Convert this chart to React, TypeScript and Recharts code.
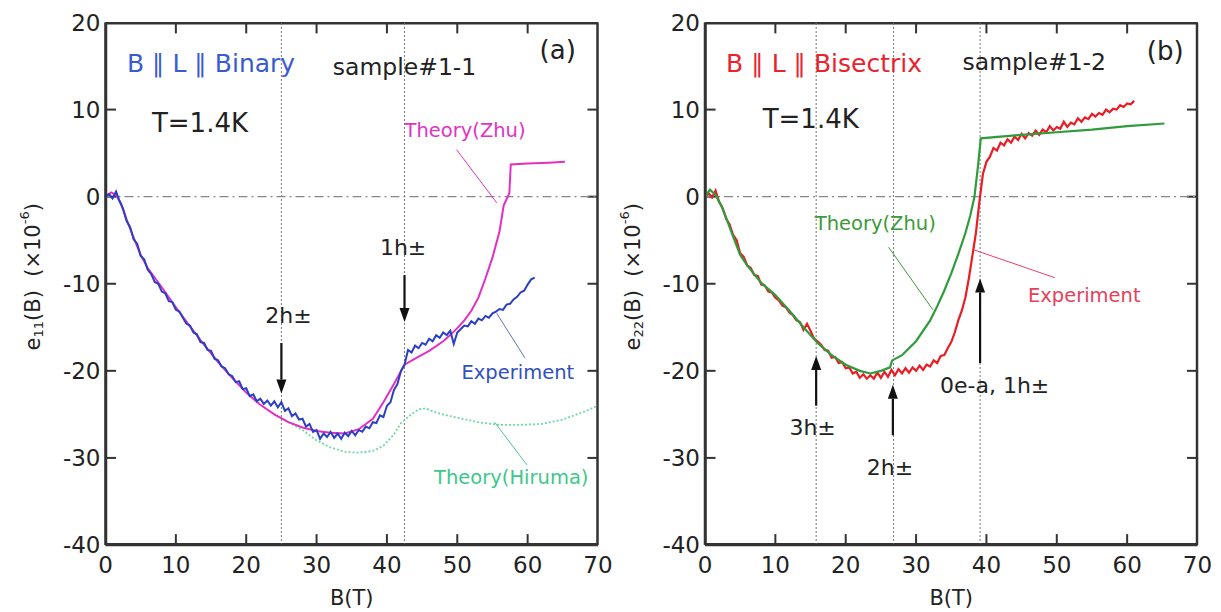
import { LineChart, Line, XAxis, YAxis, ReferenceLine, ReferenceDot, Label } from 'recharts';

const FONT = '"DejaVu Sans", sans-serif';

// (a) B || L || Binary, sample#1-1
const zhuA_B = [0, 0.8, 1.5, 2.2, 3, 4, 5, 6, 8, 10, 12, 14, 16, 18, 20, 22, 24, 26, 28, 30, 32, 34, 36, 38, 39.5, 41, 42.5, 44, 46, 48, 49, 50, 51, 52, 53, 54, 55, 56, 56.6, 57.4, 57.6, 60, 63, 65.3];
const zhuA_E = [0, 0.5, 0.2, -0.8, -2.6, -4.7, -6.7, -8.2, -10.4, -12.7, -14.9, -17.0, -19.0, -20.8, -22.5, -23.9, -25.0, -25.9, -26.5, -26.9, -27.1, -27.2, -26.7, -25.5, -23.6, -21.5, -19.3, -18.6, -17.7, -16.6, -15.9, -15.1, -14.2, -13.1, -11.6, -9.4, -7.0, -4.0, -1.0, 0.4, 3.7, 3.8, 3.9, 4.0];

const hirumaA_B = [24, 26, 28, 30, 32, 34, 36, 38, 39.5, 41, 42, 43, 44.5, 45.5, 47, 50, 53, 56, 59, 62, 65, 68, 70];
const hirumaA_E = [-25.0, -25.9, -26.8, -28.0, -28.8, -29.3, -29.4, -29.2, -28.6, -27.3, -26.0, -25.3, -24.4, -24.3, -24.8, -25.4, -25.9, -26.2, -26.2, -26.1, -25.6, -24.7, -24.0];

// experiment field points (T), shared by both panels
const expB = [
  0, 0.5, 1, 1.5, 2, 2.5, 3, 3.5, 4, 4.5, 5, 5.5, 6, 6.5, 7, 7.5, 8, 8.5, 9, 9.5,
  10, 10.5, 11, 11.5, 12, 12.5, 13, 13.5, 14, 14.5, 15, 15.5, 16, 16.5, 17, 17.5, 18, 18.5, 19, 19.5,
  20, 20.5, 21, 21.5, 22, 22.5, 23, 23.5, 24, 24.5, 25, 25.5, 26, 26.5, 27, 27.5, 28, 28.5, 29, 29.5,
  30, 30.5, 31, 31.5, 32, 32.5, 33, 33.5, 34, 34.5, 35, 35.5, 36, 36.5, 37, 37.5, 38, 38.5, 39, 39.5,
  40, 40.5, 41, 41.5, 42, 42.5, 43, 43.5, 44, 44.5, 45, 45.5, 46, 46.5, 47, 47.5, 48, 48.5, 49, 49.5,
  50, 50.5, 51, 51.5, 52, 52.5, 53, 53.5, 54, 54.5, 55, 55.5, 56, 56.5, 57, 57.5, 58, 58.5, 59, 59.5,
  60, 60.5, 61,
];
const expA_E = [
  0, 0.3, -0.2, 0.6, -0.5, -1.4, -2.8, -3.5, -4.9, -5.4,
  -6.8, -7.2, -8.4, -8.9, -9.8, -10.0, -10.9, -11.1, -12.0, -12.1,
  -13.0, -13.2, -13.9, -14.6, -14.8, -15.6, -15.8, -16.7, -16.8, -17.6,
  -17.7, -18.6, -18.8, -19.5, -19.7, -20.4, -20.6, -21.3, -21.2, -22.1,
  -22.0, -22.9, -22.7, -23.5, -23.2, -23.8, -23.4, -24.0, -23.5, -24.2,
  -23.6, -24.6, -24.3, -25.2, -24.9, -25.6, -25.5, -26.4, -26.1, -27.0,
  -26.8, -27.8, -27.2, -27.6, -27.0, -27.7, -27.2, -27.8, -27.1, -27.5,
  -26.9, -27.4, -26.8, -27.0, -26.4, -26.6, -25.9, -26.0, -25.1, -25.3,
  -24.0, -23.6, -22.2, -21.5, -20.0, -19.3, -17.6, -17.9, -17.1, -17.4,
  -16.8, -17.0, -16.3, -16.6, -15.9, -16.2, -15.6, -15.9, -15.4, -16.9,
  -15.6, -15.2, -14.8, -14.9, -14.3, -14.6, -14.0, -14.2, -13.7, -13.9,
  -13.4, -13.2, -12.9, -13.0, -12.4, -12.3, -11.8, -11.5, -11.0, -10.8,
  -10.1, -9.5, -9.3,
];

// (b) B || L || Bisectrix, sample#1-2
const zhuB_B = [0, 0.7, 1.5, 2.3, 3, 4, 5, 6, 8, 10, 12, 14, 16, 18, 20, 22, 23.5, 25, 26.3, 26.6, 28, 30, 32, 33, 34, 35, 36, 37, 37.7, 38.3, 38.8, 39.2, 45, 50, 55, 60, 65.3];
const zhuB_E = [0, 0.8, 0.2, -1.0, -2.4, -4.6, -6.7, -7.9, -9.9, -11.3, -13.1, -15.0, -16.8, -18.2, -19.3, -20.0, -20.3, -20.0, -19.6, -18.8, -18.2, -16.6, -14.2, -12.6, -10.8, -8.8, -6.6, -4.2, -2.2, 0, 3.5, 6.7, 7.1, 7.4, 7.7, 8.1, 8.4];

const expB_E = [
  0, 0.4, -0.1, 0.7, -0.6, -1.3, -2.5, -3.2, -4.4, -5.0,
  -6.5, -6.9, -7.9, -8.2, -9.0, -9.1, -10.1, -10.2, -10.9, -11.0,
  -11.6, -11.9, -12.5, -12.7, -13.3, -13.6, -14.2, -14.4, -15.3, -14.6,
  -15.4, -16.3, -16.6, -17.0, -17.6, -17.7, -18.5, -18.4, -19.1, -19.0,
  -19.7, -19.6, -20.3, -20.1, -20.8, -20.4, -20.9, -20.5, -20.9, -20.2,
  -20.8, -20.1, -20.7, -19.9, -20.5, -19.8, -20.3, -19.7, -20.2, -19.6,
  -20.0, -19.4, -19.9, -19.3, -19.5, -18.8, -19.1, -18.3, -18.2, -17.4,
  -16.7, -15.6, -14.2, -13.1, -11.6, -9.4, -6.8, -4.2, -0.6, 2.6,
  4.0, 4.6, 5.6, 5.3, 6.2, 5.9, 6.6, 6.2, 6.9, 6.5,
  7.2, 6.7, 7.3, 7.0, 7.6, 7.1, 7.7, 7.4, 8.1, 7.6,
  8.0, 7.8, 8.6, 8.0, 8.5, 8.3, 9.0, 8.6, 9.1, 8.9,
  9.5, 9.2, 9.6, 9.4, 10.0, 9.7, 10.1, 10.0, 10.5, 10.3,
  10.7, 10.6, 11.0,
];

const xTicks = [0, 10, 20, 30, 40, 50, 60, 70];
const yTicks = [-40, -30, -20, -10, 0, 10, 20];
const innerX = [10, 20, 30, 40, 50, 60];
const innerY = [-30, -20, -10, 0, 10];

const pts = (b: number[], e: number[]) => b.map((v, i) => ({ b: v, e: e[i] }));

const zhuA = pts(zhuA_B, zhuA_E);
const hirumaA = pts(hirumaA_B, hirumaA_E);
const expA = pts(expB, expA_E);
const zhuB = pts(zhuB_B, zhuB_E);
const expBpts = pts(expB, expB_E);

const note = (text: string, color = '#222', size = 22, anchor: 'start' | 'middle' = 'start') =>
  (p: any) => (
    <text x={p.cx} y={p.cy} fill={color} fontSize={size} fontFamily={FONT} textAnchor={anchor}>
      {text}
    </text>
  );

const arrowShape = (p: any) => {
  const { x1, y1, x2, y2 } = p;
  const a = Math.atan2(y2 - y1, x2 - x1);
  const len = 14, w = 5;
  const bx = x2 - len * Math.cos(a), by = y2 - len * Math.sin(a);
  const px = -Math.sin(a) * w, py = Math.cos(a) * w;
  return (
    <g>
      <line x1={x1} y1={y1} x2={bx} y2={by} stroke="#111" strokeWidth={2.2} />
      <polygon points={`${x2},${y2} ${bx + px},${by + py} ${bx - px},${by - py}`} fill="#111" />
    </g>
  );
};

const xLabel = (p: any) => {
  const vb = p.viewBox;
  if (!vb) return null;
  return (
    <text x={vb.x + vb.width / 2} y={vb.y + 60} textAnchor="middle" fontSize={21} fontFamily={FONT} fill="#222">
      B(T)
    </text>
  );
};

const yLabel = (cx: number, sub: string) => (p: any) => {
  const vb = p.viewBox;
  if (!vb) return null;
  const x = vb.x + cx;
  const y = vb.y + vb.height / 2 - 7;
  return (
    <text transform={`rotate(-90 ${x} ${y})`} x={x} y={y} textAnchor="middle" dominantBaseline="central"
      fontSize={21} fontFamily={FONT} fill="#222">
      e<tspan fontSize={13} dy={5}>{sub}</tspan>
      <tspan dy={-5}>{'(B)\u00a0\u00a0(×10'}</tspan>
      <tspan fontSize={13} dy={-9}>-6</tspan>
      <tspan dy={9}>)</tspan>
    </text>
  );
};
const yLabelA = yLabel(33, '11');
const yLabelB = yLabel(23, '22');

const tickFont = { fill: '#222', fontSize: 23, fontFamily: FONT };
const frameLine = { stroke: '#333', strokeWidth: 2.5 };

// box and inward ticks, kept a hair inside the domain edges
const frame = () => [
  <ReferenceLine key="fb" y={-39.9} stroke="#333" strokeWidth={2.5} />,
  <ReferenceLine key="ft" y={19.9} stroke="#333" strokeWidth={2.5} />,
  <ReferenceLine key="fl" x={0.07} stroke="#333" strokeWidth={2.5} />,
  <ReferenceLine key="fr" x={69.93} stroke="#333" strokeWidth={2.5} />,
  ...innerX.map((v) => (
    <ReferenceLine key={`bx${v}`} segment={[{ x: v, y: -39.9 }, { x: v, y: -38.75 }]} stroke="#333" strokeWidth={2} />
  )),
  ...innerX.map((v) => (
    <ReferenceLine key={`tx${v}`} segment={[{ x: v, y: 19.9 }, { x: v, y: 18.75 }]} stroke="#333" strokeWidth={2} />
  )),
  ...innerY.map((v) => (
    <ReferenceLine key={`ly${v}`} segment={[{ x: 0.07, y: v }, { x: 1.5, y: v }]} stroke="#333" strokeWidth={2} />
  )),
  ...innerY.map((v) => (
    <ReferenceLine key={`ry${v}`} segment={[{ x: 69.93, y: v }, { x: 68.5, y: v }]} stroke="#333" strokeWidth={2} />
  )),
];

export default function App() {
  return (
    <div style={{ position: 'absolute', left: 0, top: 0, width: 1221, height: 612, background: '#fff' }}>
      <div style={{ position: 'absolute', left: 0, top: 0 }}>
        <LineChart width={612} height={612} data={expA} margin={{ top: 22.5, right: 14, bottom: 0, left: 0 }}>
          <XAxis type="number" dataKey="b" domain={[0, 70]} ticks={xTicks} height={67}
            tickLine={false} tickSize={0} tickMargin={12} axisLine={frameLine} tick={tickFont}>
            <Label content={xLabel} />
          </XAxis>
          <YAxis type="number" domain={[-40, 20]} ticks={yTicks} width={105.5}
            tickLine={false} tickSize={0} tickMargin={5} axisLine={frameLine} tick={tickFont}>
            <Label content={yLabelA} />
          </YAxis>
          {frame()}
          <ReferenceLine x={25} stroke="#777" strokeWidth={1} strokeDasharray="2 2" />
          <ReferenceLine x={42.5} stroke="#777" strokeWidth={1} strokeDasharray="2 2" />
          <ReferenceLine y={0} stroke="#888" strokeWidth={1.2} strokeDasharray="9 4 2 4" />

          <Line data={hirumaA} dataKey="e" type="linear" dot={false} stroke="#6fd9a6" strokeWidth={1.8} strokeDasharray="2 2" isAnimationActive={false} />
          <Line data={zhuA} dataKey="e" type="linear" dot={false} stroke="#e52fc2" strokeWidth={2} isAnimationActive={false} />
          <Line dataKey="e" type="linear" dot={false} stroke="#2a3fc4" strokeWidth={2} isAnimationActive={false} />

          <ReferenceDot x={3.05} y={14.3} r={0} shape={note('B ∥ L ∥ Binary', '#3a5bd0', 25)} />
          <ReferenceDot x={32.3} y={14.0} r={0} shape={note('sample#1-1', '#222', 23.5)} />
          <ReferenceDot x={61.7} y={15.8} r={0} shape={note('(a)', '#222', 26)} />
          <ReferenceDot x={6.6} y={7.4} r={0} shape={note('T=1.4K', '#222', 26)} />
          <ReferenceDot x={42.5} y={6.8} r={0} shape={note('Theory(Zhu)', '#e033c4', 19.5)} />
          <ReferenceDot x={26} y={-14.5} r={0} shape={note('2h±', '#222', 22, 'middle')} />
          <ReferenceDot x={42.3} y={-6.7} r={0} shape={note('1h±', '#222', 22, 'middle')} />
          <ReferenceDot x={50.6} y={-20.9} r={0} shape={note('Experiment', '#3050c0', 19.5)} />
          <ReferenceDot x={46.7} y={-33.0} r={0} shape={note('Theory(Hiruma)', '#3cc88a', 19.5)} />

          <ReferenceLine segment={[{ x: 49.9, y: 5.4 }, { x: 55.6, y: -0.7 }]} stroke="#e033c4" strokeWidth={1} />
          <ReferenceLine segment={[{ x: 55.6, y: -13.4 }, { x: 59.6, y: -18.5 }]} stroke="#6070b8" strokeWidth={1} />
          <ReferenceLine segment={[{ x: 55.3, y: -25.9 }, { x: 59.9, y: -30.8 }]} stroke="#50c890" strokeWidth={1} />
          <ReferenceLine segment={[{ x: 25, y: -16.8 }, { x: 25, y: -22.6 }]} shape={arrowShape} />
          <ReferenceLine segment={[{ x: 42.5, y: -9.0 }, { x: 42.5, y: -14.4 }]} shape={arrowShape} />
        </LineChart>
      </div>

      <div style={{ position: 'absolute', left: 610, top: 0 }}>
        <LineChart width={611} height={612} data={expBpts} margin={{ top: 22.5, right: 23.5, bottom: 0, left: 0 }}>
          <XAxis type="number" dataKey="b" domain={[0, 70]} ticks={xTicks} height={67}
            tickLine={false} tickSize={0} tickMargin={12} axisLine={frameLine} tick={tickFont}>
            <Label content={xLabel} />
          </XAxis>
          <YAxis type="number" domain={[-40, 20]} ticks={yTicks} width={95}
            tickLine={false} tickSize={0} tickMargin={5} axisLine={frameLine} tick={tickFont}>
            <Label content={yLabelB} />
          </YAxis>
          {frame()}
          <ReferenceLine x={15.8} stroke="#777" strokeWidth={1} strokeDasharray="2 2" />
          <ReferenceLine x={26.8} stroke="#777" strokeWidth={1} strokeDasharray="2 2" />
          <ReferenceLine x={39.1} stroke="#777" strokeWidth={1} strokeDasharray="2 2" />
          <ReferenceLine y={0} stroke="#888" strokeWidth={1.2} strokeDasharray="9 4 2 4" />

          <Line dataKey="e" type="linear" dot={false} stroke="#ea1c24" strokeWidth={2.2} isAnimationActive={false} />
          <Line data={zhuB} dataKey="e" type="linear" dot={false} stroke="#2e9b3c" strokeWidth={2.2} isAnimationActive={false} />

          <ReferenceDot x={3.0} y={14.3} r={0} shape={note('B ∥ L ∥ Bisectrix', '#e8232e', 25)} />
          <ReferenceDot x={36.6} y={14.6} r={0} shape={note('sample#1-2', '#222', 23.5)} />
          <ReferenceDot x={62.8} y={15.7} r={0} shape={note('(b)', '#222', 26)} />
          <ReferenceDot x={8.2} y={7.9} r={0} shape={note('T=1.4K', '#222', 26)} />
          <ReferenceDot x={15.6} y={-3.8} r={0} shape={note('Theory(Zhu)', '#3a9a3a', 19.5)} />
          <ReferenceDot x={45.9} y={-12.1} r={0} shape={note('Experiment', '#e8405a', 19.5)} />
          <ReferenceDot x={33.4} y={-22.6} r={0} shape={note('0e-a, 1h±', '#222', 22)} />
          <ReferenceDot x={12.0} y={-27.4} r={0} shape={note('3h±', '#222', 22)} />
          <ReferenceDot x={23.0} y={-32.0} r={0} shape={note('2h±', '#222', 22)} />

          <ReferenceLine segment={[{ x: 26.1, y: -5.8 }, { x: 32.4, y: -13.0 }]} stroke="#3a9a3a" strokeWidth={1} />
          <ReferenceLine segment={[{ x: 38.2, y: -6.1 }, { x: 49.7, y: -9.3 }]} stroke="#e84060" strokeWidth={1} />
          <ReferenceLine segment={[{ x: 39.1, y: -19.1 }, { x: 39.1, y: -9.4 }]} shape={arrowShape} />
          <ReferenceLine segment={[{ x: 15.8, y: -24.0 }, { x: 15.8, y: -18.3 }]} shape={arrowShape} />
          <ReferenceLine segment={[{ x: 26.7, y: -27.4 }, { x: 26.7, y: -21.6 }]} shape={arrowShape} />
        </LineChart>
      </div>
    </div>
  );
}
